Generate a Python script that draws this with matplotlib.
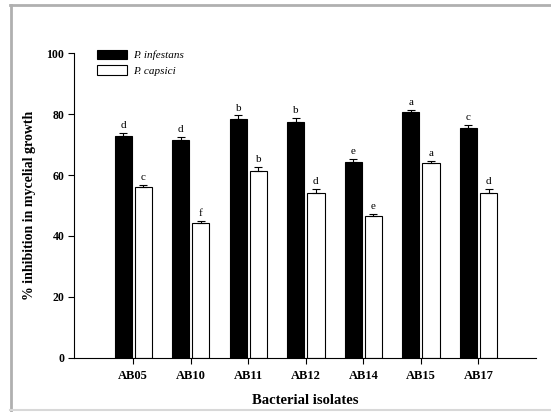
import matplotlib
matplotlib.use("Agg")
import matplotlib.pyplot as plt
from matplotlib.lines import Line2D
import numpy as np

isolates = ["AB05", "AB10", "AB11", "AB12", "AB14", "AB15", "AB17"]
infestans = [72.8, 71.5, 78.4, 77.3, 64.3, 80.8, 75.5]
infestans_err = [1.0, 1.0, 1.2, 1.4, 1.0, 0.6, 0.9]
capsici = [56.1, 44.4, 61.4, 54.2, 46.5, 64.0, 54.0]
capsici_err = [0.7, 0.6, 1.2, 1.2, 0.8, 0.6, 1.5]
infestans_letters = ["d", "d", "b", "b", "e", "a", "c"]
capsici_letters = ["c", "f", "b", "d", "e", "a", "d"]

W, H = 551, 412
fig = plt.figure(figsize=(W / 100, H / 100), dpi=100)
ax = fig.add_axes([74 / W, 1 - 357.7 / H, (536 - 74) / W, (357.7 - 53.3) / H])

serif = ["Liberation Serif", "DejaVu Serif"]
x = np.arange(len(isolates))
bw = 0.3
off = 0.175
ax.bar(x - off, infestans, bw, color="black", edgecolor="black", linewidth=0.8,
       label="P. infestans", zorder=2)
ax.bar(x + off, capsici, bw, color="white", edgecolor="black", linewidth=0.8,
       label="P. capsici", zorder=2)
ax.errorbar(x - off, infestans, yerr=[np.zeros(len(x)), infestans_err], fmt="none",
            ecolor="black", elinewidth=0.8, capsize=3, capthick=0.8, zorder=3)
ax.errorbar(x + off, capsici, yerr=[np.zeros(len(x)), capsici_err], fmt="none",
            ecolor="black", elinewidth=0.8, capsize=3, capthick=0.8, zorder=3)

for xi, v, e, l in zip(x - off, infestans, infestans_err, infestans_letters):
    ax.text(xi, v + e + 0.9, l, ha="center", va="bottom", fontsize=8, family=serif)
for xi, v, e, l in zip(x + off, capsici, capsici_err, capsici_letters):
    ax.text(xi, v + e + 0.9, l, ha="center", va="bottom", fontsize=8, family=serif)

ax.set_xlim(-1.03, 7.0)
ax.set_ylim(0, 100)
ax.set_yticks([0, 20, 40, 60, 80, 100])
ax.set_xticks(x)
ax.set_xticklabels(isolates)
for s in ["top", "right"]:
    ax.spines[s].set_visible(False)
for s in ["left", "bottom"]:
    ax.spines[s].set_linewidth(0.8)
ax.tick_params(axis="both", direction="out", length=4, width=0.8, pad=3)
for lab in ax.get_yticklabels():
    lab.set_family(serif)
    lab.set_fontweight("bold")
    lab.set_fontsize(8.5)
for lab in ax.get_xticklabels():
    lab.set_family(serif)
    lab.set_fontweight("bold")
    lab.set_fontsize(9)
ax.tick_params(axis="x", pad=5)

ax.set_xlabel("Bacterial isolates", family=serif, fontweight="bold", fontsize=10.5,
              va="center")
ax.set_ylabel("% inhibition in mycelial growth", family=serif, fontweight="bold",
              fontsize=10, va="center")
ax.xaxis.set_label_coords(0.5, (357.7 - 400) / (357.7 - 53.3))
ax.yaxis.set_label_coords((30 - 74) / (536 - 74), 0.5)

leg = ax.legend(loc="upper left", bbox_to_anchor=(97 / W, 1 - 50 / H),
                bbox_transform=fig.transFigure, frameon=False,
                prop={"family": serif, "style": "italic", "size": 8},
                handlelength=2.66, handleheight=0.9, labelspacing=0.45,
                handletextpad=0.55, borderpad=0, borderaxespad=0)

# outer screenshot frame
fc = "#b0b0b0"
fig.add_artist(Line2D([10 / W, 1], [1 - 5 / H, 1 - 5 / H], color=fc, lw=2, transform=fig.transFigure))
fig.add_artist(Line2D([11 / W, 11 / W], [0, 1 - 5 / H], color=fc, lw=2, transform=fig.transFigure))
fig.add_artist(Line2D([10 / W, 1], [2 / H, 2 / H], color="#d8d8d8", lw=1.5, transform=fig.transFigure))

fig.savefig("out.png", dpi=100)
